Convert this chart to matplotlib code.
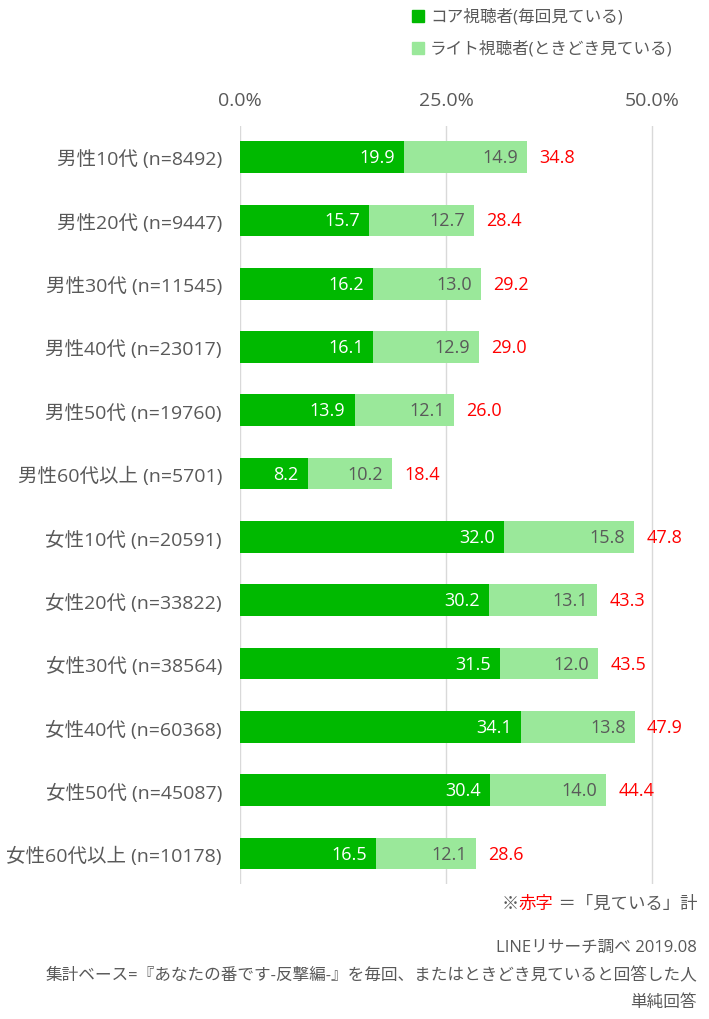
import matplotlib
matplotlib.use("Agg")
import matplotlib.pyplot as plt
from matplotlib.patches import Rectangle
from matplotlib.offsetbox import TextArea, HPacker, AnchoredOffsetbox

plt.rcParams['font.family'] = ['Open Sans', 'Noto Sans CJK JP', 'DejaVu Sans']

categories = ["男性10代 (n=8492)", "男性20代 (n=9447)", "男性30代 (n=11545)",
              "男性40代 (n=23017)", "男性50代 (n=19760)", "男性60代以上 (n=5701)",
              "女性10代 (n=20591)", "女性20代 (n=33822)", "女性30代 (n=38564)",
              "女性40代 (n=60368)", "女性50代 (n=45087)", "女性60代以上 (n=10178)"]
core = [19.9, 15.7, 16.2, 16.1, 13.9, 8.2, 32.0, 30.2, 31.5, 34.1, 30.4, 16.5]
light = [14.9, 12.7, 13.0, 12.9, 12.1, 10.2, 15.8, 13.1, 12.0, 13.8, 14.0, 12.1]
total = [34.8, 28.4, 29.2, 29.0, 26.0, 18.4, 47.8, 43.3, 43.5, 47.9, 44.4, 28.6]
xticks = [0, 25, 50]
xticklabels = ["0.0%", "25.0%", "50.0%"]
series_names = ["コア視聴者(毎回見ている)", "ライト視聴者(ときどき見ている)"]

DARK = "#00B900"
LIGHT = "#9AE89A"
GRAY = "#595959"
RED = "#FF0000"
FS_VAL = 13
FS_CAT = 14
FS_TICK = 14
FS_LEG = 12
FS_NOTE = 12

W, H = 709, 1020
fig = plt.figure(figsize=(W / 100, H / 100), dpi=100)
ax_l, ax_r, ax_t, ax_b = 240, 700, 127, 885
ax = fig.add_axes([ax_l / W, 1 - ax_b / H, (ax_r - ax_l) / W, (ax_b - ax_t) / H])
xmax = (ax_r - ax_l) / ((652 - 240) / 50)
ax.set_xlim(0, xmax)
n = len(categories)
ax.set_ylim(n - 1 + 0.48, -0.49)

y = list(range(n))
bh = 0.5
ax.barh(y, core, height=bh, color=DARK, zorder=3)
ax.barh(y, light, left=core, height=bh, color=LIGHT, zorder=3)

for i in range(n):
    ax.text(core[i] - 1.1, i, f"{core[i]:.1f}", ha="right", va="center",
            color="white", fontsize=FS_VAL, zorder=4)
    ax.text(core[i] + light[i] - 1.1, i, f"{light[i]:.1f}", ha="right", va="center",
            color=GRAY, fontsize=FS_VAL, zorder=4)
    ax.text(core[i] + light[i] + 1.5, i, f"{total[i]:.1f}", ha="left", va="center",
            color=RED, fontsize=FS_VAL, zorder=4)

ax.set_xticks(xticks)
ax.set_xticklabels(xticklabels, color=GRAY, fontsize=FS_TICK)
ax.xaxis.tick_top()
ax.tick_params(axis="x", length=0, pad=12)
ax.set_yticks(y)
ax.set_yticklabels(categories, color=GRAY, fontsize=FS_CAT)
ax.tick_params(axis="y", length=0, pad=13)
for s in ax.spines.values():
    s.set_visible(False)
ax.grid(axis="x", color="#D9D9D9", linewidth=1, zorder=0)
ax.set_axisbelow(True)

# legend
for name, col, yy in zip(series_names, [DARK, LIGHT], [17, 49]):
    fig.patches.append(Rectangle((412 / W, 1 - (yy + 6) / H), 12 / W, 12 / H,
                                 transform=fig.transFigure, color=col))
    fig.text(430 / W, 1 - yy / H, name, ha="left", va="center", color=GRAY, fontsize=FS_LEG)

# note with red part
parts = [TextArea("※", textprops=dict(color=GRAY, fontsize=12.5)),
         TextArea("赤字", textprops=dict(color=RED, fontsize=12.5)),
         TextArea(" ＝「見ている」計", textprops=dict(color=GRAY, fontsize=12.5))]
box = HPacker(children=parts, align="baseline", pad=0, sep=0)
ab = AnchoredOffsetbox(loc="center right", child=box, pad=0, frameon=False,
                       bbox_to_anchor=(697 / W, 1 - 905 / H),
                       bbox_transform=fig.transFigure, borderpad=0)
fig.add_artist(ab)

fig.text(697 / W, 1 - 948 / H, "LINEリサーチ調べ 2019.08", ha="right", va="center",
         color=GRAY, fontsize=FS_NOTE)
fig.text(697 / W, 1 - 976 / H, "集計ベース=『あなたの番です-反撃編-』を毎回、またはときどき見ていると回答した人",
         ha="right", va="center", color=GRAY, fontsize=FS_NOTE)
fig.text(697 / W, 1 - 1003 / H, "単純回答", ha="right", va="center", color=GRAY, fontsize=FS_NOTE)

fig.savefig("out.png", dpi=100, facecolor="white")
